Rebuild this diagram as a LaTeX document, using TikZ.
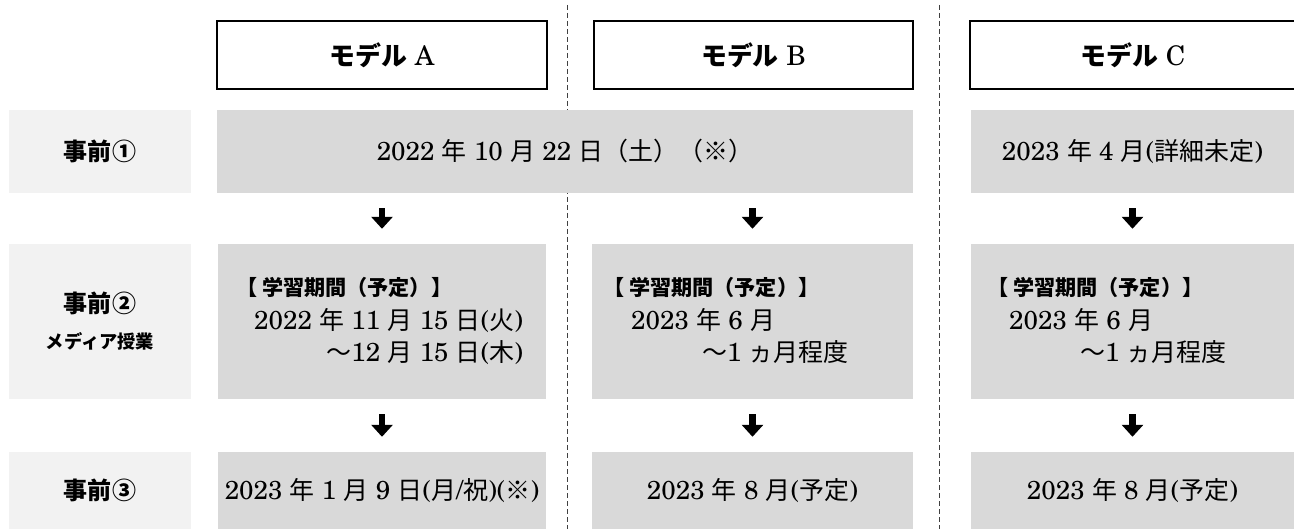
\documentclass[tikz,border=0pt]{standalone}
\usepackage{fontspec}
\usetikzlibrary{arrows.meta}
\setmainfont{texgyreschola}[Extension=.otf,UprightFont=*-regular,BoldFont=*-bold,ItalicFont=*-italic,BoldItalicFont=*-bolditalic]
\newfontfamily\jpfont[Scale=0.96]{Noto Sans CJK JP}
\newcommand{\ja}[1]{{\jpfont #1}}
\newcommand{\jb}[1]{{\jpfont\bfseries #1}}
\definecolor{lblgray}{HTML}{F2F2F2}
\definecolor{cellgray}{HTML}{D9D9D9}

\begin{document}
\begin{tikzpicture}[x=1pt,y=-1pt,
  modelbox/.style={draw,line width=1.3pt,fill=white,minimum height=68pt,inner sep=0pt,font=\fontsize{27}{31}\selectfont},
  rowlabel/.style={fill=lblgray,minimum width=182pt,inner sep=0pt,font=\fontsize{25}{30}\selectfont\jpfont\bfseries},
  cellbox/.style={fill=cellgray,inner sep=0pt,font=\fontsize{26}{31}\selectfont},
  periodhead/.style={inner sep=0pt,anchor=base west,font=\fontsize{22}{26}\selectfont\jpfont\bfseries},
  datetext/.style={inner sep=0pt,font=\fontsize{26}{31}\selectfont},
  downarrow/.style={-{Triangle[width=21pt,length=12pt]},line width=6.5pt,shorten <=15pt,shorten >=15pt},
  colsep/.style={line width=0.9pt,black!75,dash pattern=on 5pt off 3pt}]

\clip (0,0) rectangle (1294,529);
% column separators
\draw[colsep] (567.5,5) -- (567.5,529);
\draw[colsep] (939.6,5) -- (939.6,529);

% model headings
\node[modelbox,minimum width=330pt] (ma) at (382,55) {\jb{モデル} A};
\node[modelbox,minimum width=319pt] (mb) at (753.5,55) {\jb{モデル} B};
\node[modelbox,minimum width=326pt] (mc) at (1133,55) {\jb{モデル} C};

% row 1
\node[rowlabel,minimum height=83pt] (l1) at (100,151.5) {事前①};
\node[cellbox,minimum width=696pt,minimum height=83pt] (r1ab) at (565,151.5) {2022 \ja{年} 10 \ja{月} 22 \ja{日（土）（※）}};
\node[cellbox,minimum width=323pt,minimum height=83pt] (r1c) at (1132.5,151.5) {2023 \ja{年} 4 \ja{月}(\ja{詳細未定})};

% row 2
\node[rowlabel,minimum height=155pt,align=center] (l2) at (100,321.5) {事前②\\[6pt]{\fontsize{19}{23}\selectfont メディア授業}};
\node[cellbox,minimum width=328pt,minimum height=155pt] (r2a) at (382,321.5) {};
\node[cellbox,minimum width=321pt,minimum height=155pt] (r2b) at (752.5,321.5) {};
\node[cellbox,minimum width=323pt,minimum height=155pt] (r2c) at (1132.5,321.5) {};

\node[periodhead] (ha) at (236,296) {【 学習期間（予定）】};
\node[periodhead] (hb) at (603,296) {【 学習期間（予定）】};
\node[periodhead] (hc) at (987,296) {【 学習期間（予定）】};
\node[datetext,anchor=base west] (da1) at (254,330) {2022 \ja{年} 11 \ja{月} 15 \ja{日}(\ja{火})};
\node[datetext,anchor=base east] (da2) at (da1.base east |- 0,362) {\ja{～}12 \ja{月} 15 \ja{日}(\ja{木})};
\node[datetext,anchor=base west] (db1) at (631,330) {2023 \ja{年} 6 \ja{月}};
\node[datetext,anchor=base west] (db2) at (702,362) {\ja{～}1 \ja{ヵ月程度}};
\node[datetext,anchor=base west] (dc1) at (1009,330) {2023 \ja{年} 6 \ja{月}};
\node[datetext,anchor=base west] (dc2) at (1080,362) {\ja{～}1 \ja{ヵ月程度}};

% row 3
\node[rowlabel,minimum height=77pt] (l3) at (100,490.5) {事前③};
\node[cellbox,minimum width=328pt,minimum height=77pt] (r3a) at (382,490.5) {2023 \ja{年} 1 \ja{月} 9 \ja{日}(\ja{月}/\ja{祝})(\ja{※})};
\node[cellbox,minimum width=321pt,minimum height=77pt] (r3b) at (752.5,490.5) {2023 \ja{年} 8 \ja{月}(\ja{予定})};
\node[cellbox,minimum width=323pt,minimum height=77pt] (r3c) at (1132.5,490.5) {2023 \ja{年} 8 \ja{月}(\ja{予定})};

\path[downarrow]
(r2a.north |- r1ab.south) edge (r2a.north)
(r2b.north |- r1ab.south) edge (r2b.north)
(r1c.south) edge (r2c.north)
(r2a.south) edge (r3a.north)
(r2b.south) edge (r3b.north)
(r2c.south) edge (r3c.north);
\end{tikzpicture}
\end{document}
